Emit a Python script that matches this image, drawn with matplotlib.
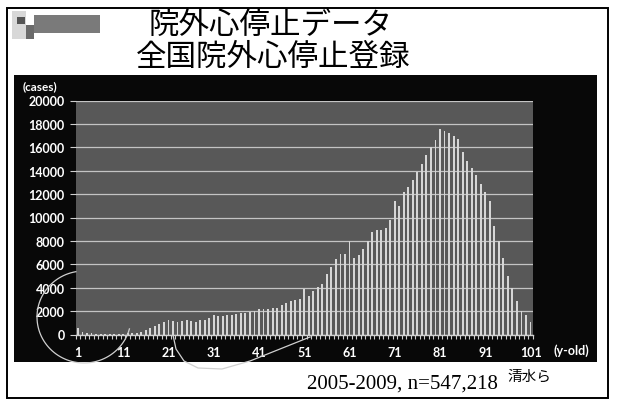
import matplotlib
matplotlib.use("Agg")
import matplotlib.pyplot as plt
import numpy as np
from matplotlib.patches import Rectangle
from matplotlib.lines import Line2D

W, H = 617, 402

# data (cases by age)
ages = list(range(1, 102))
cases = [550, 180, 120, 90, 70, 60, 60, 60, 70, 80,
         80, 90, 110, 150, 220, 350, 520, 700, 900, 1100,
         1200, 1150, 1100, 1150, 1200, 1150, 1100, 1200, 1250, 1400,
         1700, 1550, 1600, 1650, 1700, 1750, 1800, 1850, 1900, 2050,
         2150, 2200, 2150, 2250, 2300, 2500, 2650, 2900, 2950, 3050,
         3900, 3300, 3750, 4050, 4300, 5150, 5750, 6450, 6850, 6900,
         7950, 6500, 6800, 7350, 7950, 8800, 8900, 8900, 9100, 9800,
         11400, 11000, 12200, 12600, 13200, 13900, 14600, 15300, 16000, 16600,
         17600, 17400, 17200, 17000, 16700, 15600, 14800, 14200, 13600, 12900,
         12200, 11400, 9300, 8000, 6500, 5000, 4000, 2900, 2050, 1650, 1100]
xtick_ages = list(range(1, 102, 10))
yticks = list(range(0, 20001, 2000))

title1 = "院外心停止データ"
title2 = "全国院外心停止登録"
note = "2005-2009, n=547,218"
author = "清水ら"

jp = ["Noto Sans CJK JP", "DejaVu Sans"]


def fx(x):
    return x / W


def fy(y):
    return 1 - y / H


def box(x0, y0, x1, y1, **kw):
    # rectangle in picture pixel coords, drawn behind the axes
    r = Rectangle((fx(x0), fy(y1)), fx(x1) - fx(x0), fy(y0) - fy(y1),
                  transform=fig.transFigure, zorder=-1, **kw)
    fig.patches.append(r)


fig = plt.figure(figsize=(W / 100, H / 100), dpi=100)
fig.patch.set_facecolor("white")

# slide frame
box(7, 9, 608, 399, fill=False, edgecolor="black", lw=1.4)

# logo placeholder (blurred in scan)
box(12, 12, 26, 40, color="#d8d8d8", lw=0)
box(34, 16, 100, 34, color="#7a7a7a", lw=0)
box(26, 26, 34, 40, color="#6a6a6a", lw=0)
box(17, 18, 25, 25, color="#555555", lw=0)

# titles
fig.text(fx(271), fy(25), title1, ha="center", va="center", fontsize=22,
         family=jp, color="black")
fig.text(fx(273), fy(57), title2, ha="center", va="center", fontsize=22,
         family=jp, color="black")

# black chart area
box(14, 76, 597, 363, color="#080808", lw=0)

ax = fig.add_axes([fx(75.7), fy(335.5), fx(532.8) - fx(75.7), fy(101.5) - fy(335.5)])
ax.set_facecolor("#585858")
ax.bar(ages, cases, width=0.42, color="#d6d6d6", zorder=3)
ax.set_xlim(0.5, 101.5)
ax.set_ylim(0, 20000)
ax.set_yticks(yticks)
ax.set_yticklabels([str(v) for v in yticks])
ax.set_xticks(xtick_ages)
ax.set_xticklabels([str(a) for a in xtick_ages])
ax.set_xticks(np.arange(0.5, 102, 1), minor=True)
ax.grid(axis="y", color="#c4c4c4", lw=0.9, zorder=1)
for s in ["top", "right", "left"]:
    ax.spines[s].set_visible(False)
ax.spines["bottom"].set_color("#cfcfcf")
ax.spines["bottom"].set_linewidth(1.0)
ax.tick_params(axis="x", which="major", length=0, pad=8,
               labelcolor="white", labelsize=9)
ax.tick_params(axis="x", which="minor", length=3, color="#cfcfcf", width=0.8)
ax.tick_params(axis="y", length=4, color="#cfcfcf", pad=4,
               labelcolor="white", labelsize=9)
for lab in ax.get_xticklabels() + ax.get_yticklabels():
    lab.set_fontfamily("Lato")
    lab.set_fontweight("bold")

fig.text(fx(23), fy(87), "(cases)", ha="left", va="center", fontsize=8.5,
         color="white", family="Lato", fontweight="bold")
fig.text(fx(553), fy(351), "(y-old)", ha="left", va="center", fontsize=9,
         color="white", family="Lato", fontweight="bold")

# pen marks on the scan
t = np.linspace(np.deg2rad(15), np.deg2rad(260), 80)
cx, cy, rx, ry = 84, 318, 47, 46
fig.lines.append(Line2D(fx(cx + rx * np.cos(t)), fy(cy + ry * np.sin(t)),
                        transform=fig.transFigure, color="#d0d0d0", lw=0.9, zorder=5))
px = [173, 176, 184, 198, 222, 250, 280, 310]
py = [336, 350, 362, 369, 370, 362, 350, 338]
fig.lines.append(Line2D(fx(np.array(px)), fy(np.array(py)),
                        transform=fig.transFigure, color="#d0d0d0", lw=0.9, zorder=5))

# bottom note
fig.text(fx(498), fy(384), note, ha="right", va="center", fontsize=15,
         family="Liberation Serif", color="black")
fig.text(fx(507), fy(377), author, ha="left", va="center", fontsize=10.5,
         family=jp, color="black")

fig.savefig("out.png", dpi=100, facecolor="white")
